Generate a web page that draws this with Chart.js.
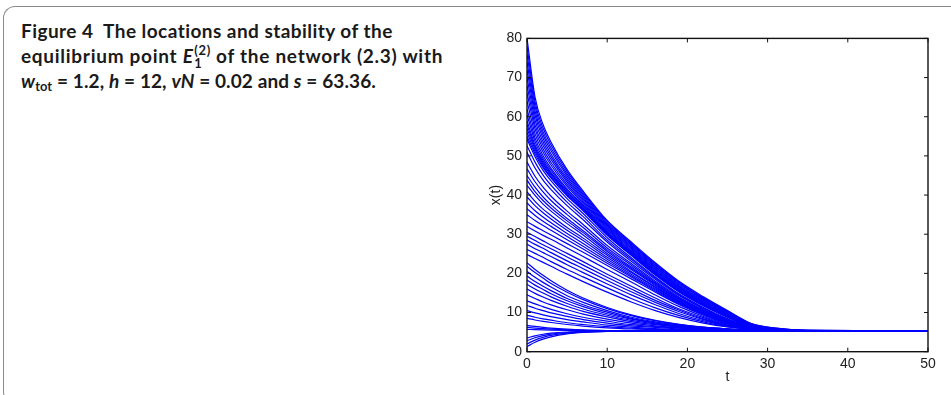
<!DOCTYPE html>
<html>
<head>
<meta charset="utf-8">
<script src="https://cdn.jsdelivr.net/npm/chart.js@4.4.0/dist/chart.umd.min.js"></script>
<style>
  body { margin: 0; width: 951px; height: 395px; overflow: hidden; background: #fff; position: relative; }
  #frame { position: absolute; left: 3px; top: 6px; width: 1000px; height: 394px;
           border-left: 1.5px solid #8a8a8a; border-top: 1.5px solid #8a8a8a; border-bottom: 1.5px solid #555;
           border-radius: 12px 0 0 10px; }
  #caption { position: absolute; left: 21px; top: 18px; font-family: Lato, "Open Sans", sans-serif;
             font-weight: 700; font-size: 19px; letter-spacing: 0.45px; line-height: 25px; color: #1a1a1a; white-space: nowrap; }
  #caption i { font-style: italic; }
  #caption .l2 { letter-spacing: 0.72px; }
  #caption .l3 { letter-spacing: 0.1px; }
  .ss { display: inline-block; position: relative; width: 0.9em; height: 1em; vertical-align: baseline; }
  .ss .sup { position: absolute; left: 0.05em; top: -0.5em; font-size: 0.68em; font-style: normal; }
  .ss .sub { position: absolute; left: 0.05em; top: 0.55em; font-size: 0.68em; font-style: normal; }
  sub { font-size: 0.68em; vertical-align: -0.25em; font-style: normal; }
  #wrap { position: absolute; left: 470px; top: 25px; width: 475px; height: 370px; }
</style>
</head>
<body>
<div id="frame"></div>
<div id="caption">
  <span class="l1">Figure 4&nbsp; The locations and stability of the</span><br>
  <span class="l2">equilibrium point <i>E</i><span class="ss"><span class="sup">(2)</span><span class="sub">1</span></span> of the network (2.3) with</span><br>
  <span class="l3"><i>w</i><sub>tot</sub> = 1.2, <i>h</i> = 12, <i>vN</i> = 0.02 and <i>s</i> = 63.36.</span>
</div>
<div id="wrap"><canvas id="chart" width="475" height="370"></canvas></div>
<script>
/* --------------- Data ----------------------------------------- */
const tPoints = [0, 1, 2, 3, 5, 7, 10, 13, 16, 19, 22, 25, 28, 31, 35, 50];

const xTicks = [0, 10, 20, 30, 40, 50];
const yTicks = [0, 10, 20, 30, 40, 50, 60, 70, 80];

// one row per trajectory x_i(t), sampled at tPoints
const curves = [
  // upper dense band
  [80, 65, 58, 53.5, 46.5, 41, 33.5, 28, 22.7, 17.9, 14.0, 10.5, 7.2, 6.0, 5.45, 5.3],
  [78, 63.8, 57.1, 52.8, 46.0, 40.6, 33.2, 27.7, 22.5, 17.7, 13.8, 10.4, 7.1, 6.0, 5.44, 5.3],
  [76, 62.7, 56.2, 52.0, 45.4, 40.2, 32.9, 27.5, 22.2, 17.5, 13.6, 10.2, 7.0, 5.9, 5.43, 5.3],
  [74, 61.5, 55.4, 51.3, 44.9, 39.8, 32.6, 27.2, 22.0, 17.3, 13.5, 10.1, 7.0, 5.9, 5.42, 5.3],
  [72, 60.4, 54.5, 50.5, 44.3, 39.4, 32.3, 26.9, 21.7, 17.0, 13.3, 10.0, 6.9, 5.8, 5.41, 5.3],
  [70, 59.2, 53.6, 49.8, 43.8, 39.0, 32.0, 26.6, 21.5, 16.8, 13.1, 9.8, 6.8, 5.8, 5.4, 5.3],
  [68, 58.0, 52.7, 49.1, 43.3, 38.6, 31.7, 26.4, 21.2, 16.6, 12.9, 9.7, 6.7, 5.8, 5.39, 5.3],
  [66, 56.9, 51.8, 48.3, 42.7, 38.2, 31.4, 26.1, 21.0, 16.4, 12.7, 9.55, 6.6, 5.7, 5.38, 5.3],
  [64, 55.7, 51.0, 47.6, 42.2, 37.8, 31.1, 25.8, 20.7, 16.2, 12.5, 9.4, 6.6, 5.7, 5.37, 5.3],
  [62, 54.6, 50.1, 46.8, 41.6, 37.4, 30.8, 25.6, 20.5, 16.0, 12.3, 9.3, 6.5, 5.6, 5.36, 5.3],
  [60.5, 53.7, 49.4, 46.3, 41.2, 37.1, 30.5, 25.4, 20.3, 15.8, 12.2, 9.2, 6.4, 5.6, 5.35, 5.3],
  [59, 52.8, 48.8, 45.7, 40.8, 36.8, 30.3, 25.1, 20.1, 15.6, 12.1, 9.1, 6.4, 5.6, 5.35, 5.3],
  [58, 52.2, 48.3, 45.4, 40.6, 36.6, 30.2, 25.0, 20.0, 15.5, 12.0, 9.0, 6.3, 5.56, 5.34, 5.3],
  [57, 51.7, 47.9, 45.0, 40.3, 36.4, 30.0, 24.9, 19.9, 15.4, 11.9, 8.9, 6.3, 5.54, 5.33, 5.3],
  [56, 51.1, 47.4, 44.6, 40.0, 36.2, 29.9, 24.7, 19.7, 15.3, 11.8, 8.9, 6.2, 5.52, 5.33, 5.3],
  [55, 50.5, 47.0, 44.3, 39.8, 36.0, 29.7, 24.6, 19.6, 15.2, 11.7, 8.8, 6.2, 5.5, 5.32, 5.3],
  // middle lines
  [54.3, 49.8, 46.3, 43.6, 39.1, 35.3, 29.1, 24.0, 19.1, 14.7, 11.3, 8.45, 6.15, 5.5, 5.33, 5.3],
  [52.6, 48.4, 45.1, 42.5, 38.2, 34.5, 28.5, 23.6, 18.8, 14.5, 11.1, 8.3, 6.1, 5.5, 5.33, 5.3],
  [50.9, 46.9, 43.8, 41.4, 37.3, 33.7, 28.0, 23.1, 18.5, 14.3, 11.0, 8.2, 6.1, 5.5, 5.33, 5.3],
  [48.4, 44.8, 42.0, 39.7, 35.9, 32.5, 27.1, 22.5, 18.0, 13.9, 10.7, 8.1, 6.1, 5.5, 5.33, 5.3],
  [46.7, 43.4, 40.8, 38.6, 35.0, 31.7, 26.5, 22.1, 17.7, 13.7, 10.6, 8.0, 6.05, 5.5, 5.33, 5.3],
  [45.0, 42.0, 39.5, 37.5, 34.0, 30.9, 26.0, 21.6, 17.4, 13.5, 10.4, 7.85, 6.04, 5.5, 5.33, 5.3],
  [43.8, 40.9, 38.6, 36.7, 33.4, 30.4, 25.6, 21.3, 17.2, 13.4, 10.3, 7.8, 6.03, 5.5, 5.33, 5.3],
  [42.5, 39.9, 37.7, 35.9, 32.7, 29.8, 25.1, 21.0, 16.9, 13.2, 10.2, 7.7, 6.0, 5.48, 5.33, 5.3],
  [40.8, 38.4, 36.4, 34.8, 31.7, 29.0, 24.6, 20.5, 16.6, 13.0, 10.0, 7.6, 6.0, 5.47, 5.33, 5.3],
  [39.5, 37.3, 35.5, 33.9, 31.0, 28.4, 24.1, 20.2, 16.4, 12.8, 9.9, 7.5, 5.97, 5.47, 5.33, 5.3],
  [38.0, 36.0, 34.4, 32.9, 30.2, 27.6, 23.6, 19.8, 16.1, 12.6, 9.75, 7.4, 5.96, 5.46, 5.33, 5.3],
  [36.5, 34.8, 33.3, 32.0, 29.4, 26.9, 23.1, 19.4, 15.8, 12.4, 9.6, 7.3, 5.94, 5.46, 5.33, 5.3],
  [35.0, 33.5, 32.2, 31.0, 28.6, 26.2, 22.6, 19.1, 15.5, 12.2, 9.5, 7.2, 5.92, 5.46, 5.33, 5.3],
  [33.2, 32.0, 30.9, 29.8, 27.6, 25.4, 22.0, 18.6, 15.2, 12.0, 9.3, 7.1, 5.9, 5.45, 5.33, 5.3],
  [32.0, 30.8, 29.7, 28.7, 26.5, 24.3, 21.0, 17.8, 14.5, 11.5, 9.0, 7.0, 5.87, 5.45, 5.33, 5.3],
  [30.5, 29.4, 28.3, 27.2, 25.1, 23.0, 19.8, 16.7, 13.7, 10.9, 8.7, 6.8, 5.84, 5.45, 5.33, 5.3],
  [29.5, 28.4, 27.3, 26.3, 24.2, 22.1, 19.0, 16.0, 13.1, 10.6, 8.4, 6.75, 5.81, 5.45, 5.33, 5.3],
  [28.5, 27.4, 26.4, 25.3, 23.2, 21.2, 18.2, 15.3, 12.6, 10.2, 8.2, 6.65, 5.79, 5.45, 5.33, 5.3],
  [27.4, 26.3, 25.3, 24.3, 22.2, 20.2, 17.3, 14.5, 12.0, 9.7, 7.9, 6.55, 5.76, 5.45, 5.33, 5.3],
  [26.1, 25.1, 24.1, 23.0, 21.0, 19.1, 16.3, 13.6, 11.2, 9.2, 7.6, 6.4, 5.73, 5.45, 5.33, 5.3],
  [24.8, 23.8, 22.8, 21.8, 19.8, 17.9, 15.2, 12.7, 10.5, 8.7, 7.3, 6.3, 5.7, 5.45, 5.33, 5.3],
  // lower fan
  [22.7, 21.0, 19.5, 18.1, 15.7, 13.7, 11.3, 9.4, 8.0, 7.0, 6.3, 5.85, 5.55, 5.4, 5.32, 5.3],
  [21.8, 20.2, 18.8, 17.4, 15.2, 13.3, 11.0, 9.2, 7.9, 6.9, 6.2, 5.8, 5.54, 5.39, 5.32, 5.3],
  [20.5, 19.0, 17.7, 16.5, 14.3, 12.6, 10.5, 8.8, 7.6, 6.8, 6.2, 5.8, 5.5, 5.38, 5.32, 5.3],
  [19.3, 17.9, 16.7, 15.6, 13.6, 12.0, 10.1, 8.5, 7.4, 6.6, 6.1, 5.7, 5.5, 5.38, 5.32, 5.3],
  [18.3, 17.0, 15.9, 14.8, 13.0, 11.5, 9.7, 8.3, 7.3, 6.5, 6.0, 5.7, 5.5, 5.37, 5.32, 5.3],
  [17.2, 16.0, 15.0, 14.0, 12.3, 10.9, 9.3, 8.0, 7.1, 6.4, 6.0, 5.7, 5.46, 5.36, 5.31, 5.3],
  [16.0, 14.9, 13.95, 13.1, 11.6, 10.3, 8.9, 7.7, 6.9, 6.3, 5.9, 5.6, 5.44, 5.35, 5.31, 5.3],
  [14.5, 13.6, 12.7, 11.95, 10.7, 9.6, 8.3, 7.3, 6.6, 6.1, 5.8, 5.6, 5.42, 5.34, 5.31, 5.3],
  [13.0, 12.2, 11.5, 10.8, 9.7, 8.8, 7.8, 6.9, 6.4, 6.0, 5.7, 5.5, 5.4, 5.33, 5.3, 5.3],
  [11.8, 11.1, 10.5, 9.9, 9.0, 8.2, 7.3, 6.6, 6.2, 5.8, 5.6, 5.5, 5.37, 5.32, 5.3, 5.3],
  [10.5, 9.9, 9.4, 8.95, 8.2, 7.6, 6.8, 6.3, 5.9, 5.7, 5.5, 5.4, 5.35, 5.31, 5.3, 5.3],
  [9.3, 8.8, 8.4, 8.05, 7.4, 6.95, 6.4, 6.0, 5.7, 5.56, 5.45, 5.38, 5.33, 5.3, 5.3, 5.3],
  [8.5, 8.1, 7.75, 7.45, 6.95, 6.55, 6.1, 5.8, 5.6, 5.47, 5.4, 5.35, 5.32, 5.3, 5.3, 5.3],
  // near the equilibrium
  [6.7, 6.45, 6.22, 6.03, 5.75, 5.55, 5.4, 5.34, 5.31, 5.3, 5.3, 5.3, 5.3, 5.3, 5.3, 5.3],
  [6.2, 6.03, 5.88, 5.76, 5.58, 5.45, 5.36, 5.32, 5.3, 5.3, 5.3, 5.3, 5.3, 5.3, 5.3, 5.3],
  [5.7, 5.62, 5.55, 5.49, 5.41, 5.36, 5.32, 5.3, 5.3, 5.3, 5.3, 5.3, 5.3, 5.3, 5.3, 5.3],
  // rising from below
  [3.5, 4.05, 4.45, 4.72, 5.03, 5.18, 5.27, 5.29, 5.3, 5.3, 5.3, 5.3, 5.3, 5.3, 5.3, 5.3],
  [2.8, 3.55, 4.1, 4.47, 4.9, 5.1, 5.24, 5.28, 5.3, 5.3, 5.3, 5.3, 5.3, 5.3, 5.3, 5.3],
  [2.0, 2.95, 3.65, 4.15, 4.72, 5.0, 5.2, 5.27, 5.3, 5.3, 5.3, 5.3, 5.3, 5.3, 5.3, 5.3],
  [1.3, 2.4, 3.2, 3.8, 4.55, 4.92, 5.17, 5.26, 5.3, 5.3, 5.3, 5.3, 5.3, 5.3, 5.3, 5.3],
];

/* --------------- Box and inward ticks (matlab style) --------------------- */
const boxPlugin = {
  id: "box",
  afterDraw(chart) {
    const { ctx, chartArea: a, scales } = chart;
    ctx.save();
    ctx.strokeStyle = "#111";
    ctx.lineWidth = 1.4;
    ctx.strokeRect(a.left, a.top, a.right - a.left, a.bottom - a.top);
    ctx.lineWidth = 1;
    ctx.beginPath();
    xTicks.forEach((v) => {
      const px = scales.x.getPixelForValue(v);
      ctx.moveTo(px, a.bottom); ctx.lineTo(px, a.bottom - 4);
      ctx.moveTo(px, a.top); ctx.lineTo(px, a.top + 4);
    });
    yTicks.forEach((v) => {
      const py = scales.y.getPixelForValue(v);
      ctx.moveTo(a.left, py); ctx.lineTo(a.left + 4, py);
      ctx.moveTo(a.right, py); ctx.lineTo(a.right - 4, py);
    });
    ctx.stroke();
    ctx.restore();
  },
};

const tickFont = { family: "'Liberation Sans', Arial, sans-serif", size: 14 };

new Chart(document.getElementById("chart"), {
  type: "line",
  plugins: [boxPlugin],
  data: {
    datasets: curves.map((c) => ({
      data: tPoints.map((t, i) => ({ x: t, y: c[i] })),
      borderColor: "#0000ff",
      borderWidth: 1.2,
      pointRadius: 0,
      fill: false,
      cubicInterpolationMode: "monotone",
    })),
  },
  options: {
    responsive: false,
    animation: false,
    events: [],
    layout: { padding: { left: 0, top: 9.7, right: 17, bottom: 0 } },
    plugins: { legend: { display: false }, tooltip: { enabled: false } },
    scales: {
      x: {
        type: "linear",
        min: 0,
        max: 50,
        afterBuildTicks: (s) => { s.ticks = xTicks.map((v) => ({ value: v })); },
        afterFit: (s) => { s.height = 43.3; },
        grid: { display: false, drawTicks: false },
        border: { display: false },
        ticks: { color: "#222", font: tickFont, padding: 4, maxRotation: 0 },
        title: { display: true, text: "t", color: "#222", font: tickFont, padding: { top: 0, bottom: 9 } },
      },
      y: {
        type: "linear",
        min: 0,
        max: 80,
        afterBuildTicks: (s) => { s.ticks = yTicks.map((v) => ({ value: v })); },
        afterFit: (s) => { s.width = 57; },
        grid: { display: false, drawTicks: false },
        border: { display: false },
        ticks: { color: "#222", font: tickFont, padding: 5 },
        title: { display: true, text: "x(t)", color: "#222", font: tickFont, padding: { top: 18, bottom: 0 } },
      },
    },
  },
});
</script>
</body>
</html>
